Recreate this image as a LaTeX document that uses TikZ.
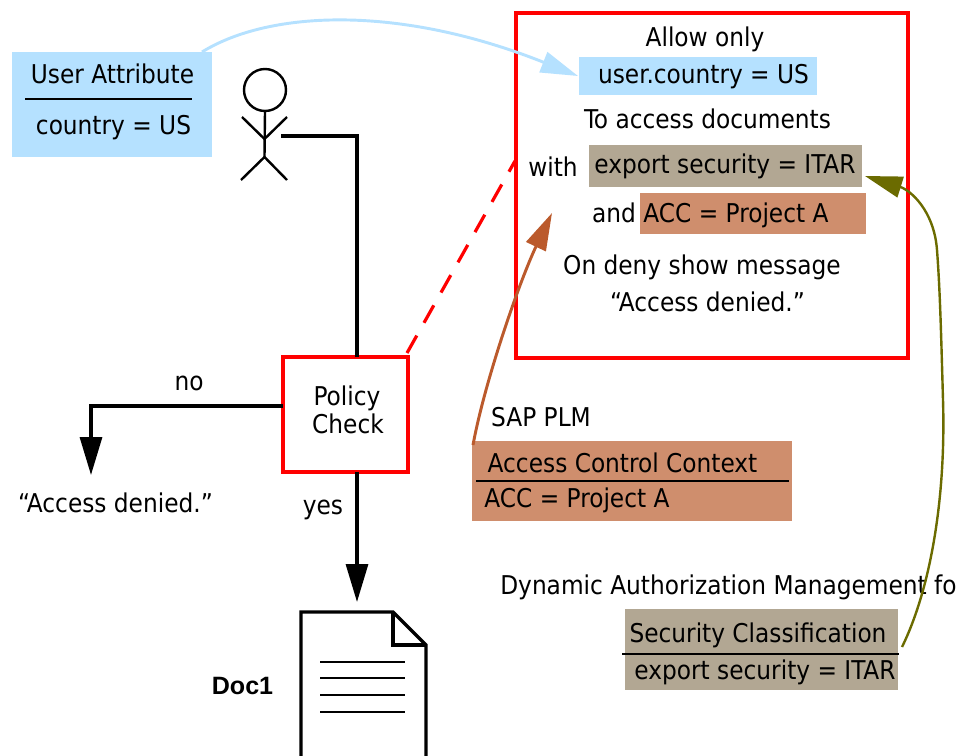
\documentclass[tikz,border=0pt]{standalone}
\usepackage{fontspec}
\setmainfont{DejaVu Sans Condensed}
\newfontfamily\docfont{Liberation Sans}[Scale=1]
\usetikzlibrary{arrows.meta}
\definecolor{skyfill}{HTML}{B5E1FF}
\definecolor{tanfill}{HTML}{B2A793}
\definecolor{copperfill}{HTML}{CF8E6D}
\definecolor{brownline}{HTML}{BB5A2C}
\definecolor{oliveline}{HTML}{6B6B00}
\tikzset{
  x=0.75pt,y=-0.75pt,
  label text/.style={inner sep=0pt,outer sep=0pt,anchor=base,yshift=-0.6pt,font=\fontsize{19.4}{24}\selectfont},
  patch/.style={inner sep=0pt,outer sep=0pt,anchor=north west,draw=none},
  rulex/.style={line width=1.7pt,black},
  heavy/.style={line width=2.4pt,black,line join=miter},
  thin stick/.style={line width=1.8pt,black},
  redbox/.style={draw=red,line width=2.4pt,inner sep=0pt,outer sep=0pt,anchor=north west,fill=white},
  bigtip/.style={-{Triangle[length=28.5pt,width=16.5pt]}},
  softtip/.style={-{Triangle[length=28pt,width=16pt]}},
}
\begin{document}
\begin{tikzpicture}
\clip (0,0) rectangle (960,756);
% filled patches
\node[patch,fill=skyfill,minimum width=150pt,minimum height=78.75pt] (attr) at (12,52) {};
\node[redbox,minimum width=294pt,minimum height=258.75pt] (policybody) at (516,13) {};
\node[patch,fill=skyfill,minimum width=178.5pt,minimum height=28.5pt] (userpatch) at (579,57) {};
\node[patch,fill=tanfill,minimum width=204.75pt,minimum height=31.5pt] (itarpatch) at (589,145) {};
\node[patch,fill=copperfill,minimum width=169.5pt,minimum height=30.75pt] (accpatch) at (640,193) {};
\node[patch,fill=copperfill,minimum width=240pt,minimum height=60pt] (accbox) at (472,441) {};
\node[patch,fill=tanfill,minimum width=204.75pt,minimum height=60.75pt] (secbox) at (625,609) {};
\node[redbox,minimum width=93.75pt,minimum height=86.25pt] (policy) at (283,357) {};
% texts
\node[label text] (t1) at (112.5,83) {User Attribute};
\node[label text] (t2) at (113.5,134) {country = US};
\node[label text] (t3) at (705,46) {Allow only};
\node[label text] (t4) at (703.5,83) {user.country = US};
\node[label text] (t5) at (707.5,128) {To access documents};
\node[label text] (t6) at (553,176) {with};
\node[label text] (t7) at (725,173) {export security = ITAR};
\node[label text] (t8) at (614,222) {and};
\node[label text] (t9) at (736,222) {ACC = Project A};
\node[label text] (t10) at (702,274) {On deny show message};
\node[label text] (t11) at (707.5,311) {“Access denied.”};
\node[label text] (t12) at (541,426) {SAP PLM};
\node[label text] (t13) at (622.5,472) {Access Control Context};
\node[label text] (t14) at (577,507) {ACC = Project A};
\node[label text] (t15) at (728.5,594) {Dynamic Authorization Management fo};
\node[label text] (t16) at (758,642) {Security Classification};
\node[label text] (t17) at (765,679) {export security = ITAR};
\node[label text] (t18) at (189,390) {no};
\node[label text] (denied) at (115.5,512) {“Access denied.”};
\node[label text] (t19) at (323,514) {yes};
\node[label text] (t20) at (347,405) {Policy};
\node[label text] (t21) at (348,433) {Check};
\node[inner sep=0pt,outer sep=0pt,anchor=base,font=\docfont\bfseries\fontsize{18.8}{22}\selectfont] (doclabel) at (242.5,694) {Doc1};
% rules
\draw[rulex] (25,99) -- (192,99);
\draw[rulex] (476,481) -- (789,481);
\draw[rulex] (622,654) -- (899,654);
% actor
\node[draw=black,line width=1.8pt,circle,minimum size=31.5pt,inner sep=0pt,outer sep=0pt] (head) at (265,90) {};
\coordinate (hip) at (264.5,157);
\coordinate (waist) at (264.5,139);
\draw[thin stick] (head.south) -- (hip);
\coordinate (armL) at (242,117);
\coordinate (armR) at (287,117);
\coordinate (legL) at (241,180);
\coordinate (legR) at (287,180);
\draw[thin stick] (armL) -- (waist) -- (armR);
\draw[thin stick] (legL) -- (hip) -- (legR);
% flow connectors
\coordinate (actorside) at (281,136);
\coordinate (elbow) at (357,136);
\draw[heavy] (actorside) -- (elbow) -- (elbow |- policy.north);
\coordinate (noelbow) at (91,406);
\coordinate (notip) at (91,475);
\draw[heavy,bigtip] (noelbow -| policy.west) -- (noelbow) -- (notip);
\coordinate (yestip) at (357,602);
\draw[heavy,bigtip] (elbow |- policy.south) -- (yestip);
% dashed link
\coordinate (dashstart) at (407,353);
\coordinate (dashend) at (515,161);
\draw[red,line width=2.4pt,dash pattern=on 15pt off 11pt] (dashstart) -- (dashend);
% document
\coordinate (d1) at (301,760);
\coordinate (d2) at (301,612);
\coordinate (d3) at (393,612);
\coordinate (d4) at (426,645);
\coordinate (d5) at (426,760);
\coordinate (d6) at (391,645);
\draw[heavy] (d1) -- (d2) -- (d3) -- (d4) -- (d5);
\draw[heavy] (d3) -- (d3 |- d6) -- (d4);
\draw[line width=2pt] (320,662) -- (405,662);
\draw[line width=2pt] (320,678) -- (405,678);
\draw[line width=2pt] (320,695) -- (405,695);
\draw[line width=2pt] (320,712) -- (405,712);
% curved links
\coordinate (skystart) at (202,52);
\coordinate (skytip) at (578,76);
\draw[skyfill,line width=2.2pt,softtip] (skystart) .. controls (270,10) and (400,5) .. (skytip);
\coordinate (brownstart) at (473,445);
\coordinate (browntip) at (552,213);
\draw[brownline,line width=2.2pt,softtip] (brownstart) .. controls (485,380) and (520,280) .. (browntip);
\coordinate (olivestart) at (902,647);
\coordinate (olivetip) at (865,176);
\draw[oliveline,line width=1.8pt,softtip] (olivestart) .. controls (930,590) and (946,500) .. (943,400) .. controls (941,330) and (940,290) .. (937,250) .. controls (934,210) and (910,190) .. (olivetip);
\end{tikzpicture}
\end{document}
